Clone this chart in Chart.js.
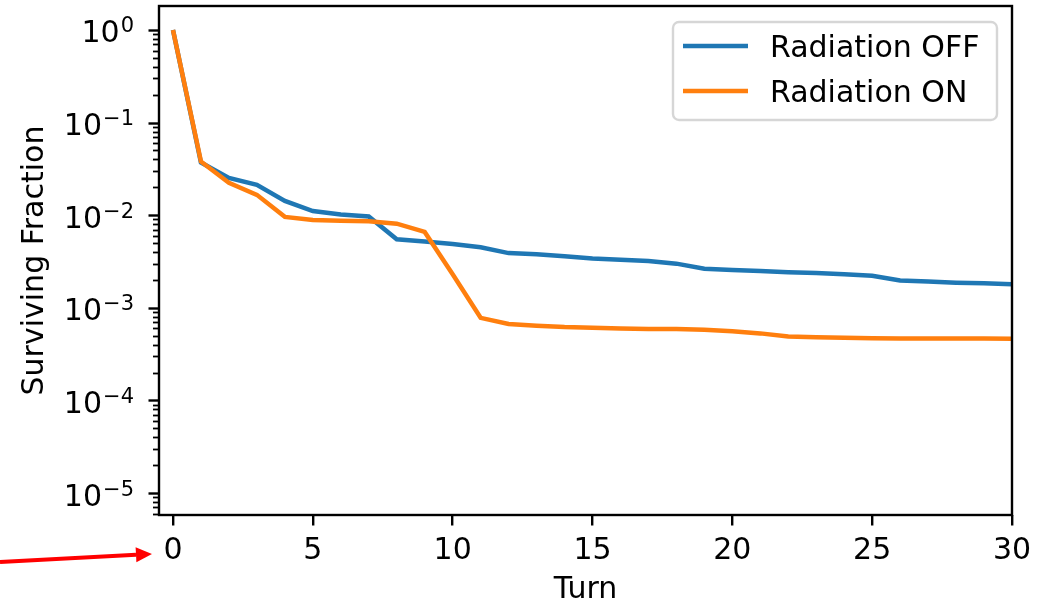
<!DOCTYPE html>
<html>
<head>
<meta charset="utf-8">
<script src="https://cdn.jsdelivr.net/npm/chart.js@4.4.0/dist/chart.umd.min.js"></script>
<style>
  html, body { margin: 0; padding: 0; background: #fff; }
  #wrap { width: 1054px; height: 605px; }
</style>
</head>
<body>
<div id="wrap"><canvas id="survivalChart" width="1054" height="605"></canvas></div>
<script>
// surviving fraction per turn, with and without radiation
const turns = [0, 1, 2, 3, 4, 5, 6, 7, 8, 9, 10, 11, 12, 13, 14, 15, 16, 17, 18, 19, 20,
               21, 22, 23, 24, 25, 26, 27, 28, 29, 30];
const radiationOff = [1.0, 0.037, 0.0253, 0.0213, 0.0143, 0.0111, 0.0102, 0.0097, 0.0055, 0.0052,
                      0.0049, 0.0045, 0.0039, 0.0038, 0.0036, 0.0034, 0.0033, 0.0032, 0.0030, 0.00264,
                      0.00256, 0.0025, 0.00243, 0.00238, 0.0023, 0.00222, 0.00197, 0.00192, 0.00187, 0.00184,
                      0.0018];
const radiationOn = [1.0, 0.038, 0.0224, 0.0166, 0.0096, 0.0089, 0.0087, 0.0086, 0.0081, 0.0066,
                     0.0023, 0.00078, 0.00067, 0.00064, 0.00062, 0.00061, 0.0006, 0.00059, 0.00059, 0.00058,
                     0.00056, 0.00053, 0.00049, 0.00048, 0.000475, 0.00047, 0.000468, 0.000467, 0.000466, 0.000466,
                     0.000465];
const seriesNames = ['Radiation OFF', 'Radiation ON'];
const seriesColors = ['#1f77b4', '#ff7f0e'];
const xTicks = [0, 5, 10, 15, 20, 25, 30];
const yTickExponents = [0, -1, -2, -3, -4, -5];

const FONT = 'DejaVu Sans';
const FS = 30;

function toPoints(values) {
    return turns.map((t, i) => ({ x: t, y: values[i] }));
}

// frame, log ticks with superscript labels, legend box and the red pointer
const decorations = {
    id: 'decorations',
    afterDraw(chart) {
        const ctx = chart.ctx;
        const area = chart.chartArea;
        const yScale = chart.scales.y;
        const xScale = chart.scales.x;
        ctx.save();

        // y ticks: majors at each decade, minors at 2..9
        ctx.strokeStyle = '#000';
        const lo = Math.floor(Math.log10(yScale.min));
        const hi = Math.ceil(Math.log10(yScale.max));
        for (let e = lo; e <= hi; e++) {
            for (let m = 1; m <= 9; m++) {
                const v = m * Math.pow(10, e);
                if (v < yScale.min || v > yScale.max) continue;
                const py = Math.round(yScale.getPixelForValue(v)) + 0.5;
                const major = m === 1;
                ctx.lineWidth = major ? 2.4 : 1.8;
                ctx.beginPath();
                ctx.moveTo(area.left, py);
                ctx.lineTo(area.left - (major ? 10.5 : 6), py);
                ctx.stroke();
            }
        }

        // y tick labels 10^e
        ctx.fillStyle = '#000';
        ctx.textBaseline = 'alphabetic';
        ctx.textAlign = 'right';
        yTickExponents.forEach(e => {
            const py = yScale.getPixelForValue(Math.pow(10, e));
            const expText = String(e).replace('-', '\u2212');
            ctx.font = '21px "' + FONT + '"';
            const expW = ctx.measureText(expText).width;
            const right = 134;
            ctx.fillText(expText, right, py + 2.5);
            ctx.font = FS + 'px "' + FONT + '"';
            ctx.fillText('10', right - expW - 1, py + 12.5);
        });

        // axes frame
        ctx.lineWidth = 2.4;
        ctx.strokeStyle = '#000';
        ctx.strokeRect(area.left, area.top, area.right - area.left, area.bottom - area.top);

        // legend
        const lx = 673, ly = 22, lw = 324, lh = 98, r = 6;
        ctx.beginPath();
        ctx.roundRect(lx, ly, lw, lh, r);
        ctx.fillStyle = 'rgba(255,255,255,0.8)';
        ctx.fill();
        ctx.lineWidth = 2.4;
        ctx.strokeStyle = 'rgba(204,204,204,0.8)';
        ctx.stroke();
        ctx.font = FS + 'px "' + FONT + '"';
        ctx.textAlign = 'left';
        seriesNames.forEach((name, i) => {
            const rowY = 46 + i * 45;
            ctx.strokeStyle = seriesColors[i];
            ctx.lineWidth = 4.5;
            ctx.beginPath();
            ctx.moveTo(683, rowY);
            ctx.lineTo(748, rowY);
            ctx.stroke();
            ctx.fillStyle = '#000';
            ctx.fillText(name, 770, rowY + 11);
        });

        // red pointer at the first x tick label
        const tipX = xScale.getPixelForValue(xTicks[0]) - 21;
        const tipY = area.bottom + 39;
        const startX = 0, startY = tipY + 8;
        const ang = Math.atan2(tipY - startY, tipX - startX);
        const headLen = 16, headHalf = 7.5;
        const bx = tipX - headLen * Math.cos(ang), by = tipY - headLen * Math.sin(ang);
        ctx.strokeStyle = '#ff0000';
        ctx.fillStyle = '#ff0000';
        ctx.lineWidth = 4;
        ctx.beginPath();
        ctx.moveTo(startX, startY);
        ctx.lineTo(bx, by);
        ctx.stroke();
        ctx.beginPath();
        ctx.moveTo(tipX, tipY);
        ctx.lineTo(bx + headHalf * Math.sin(ang), by - headHalf * Math.cos(ang));
        ctx.lineTo(bx - headHalf * Math.sin(ang), by + headHalf * Math.cos(ang));
        ctx.closePath();
        ctx.fill();

        ctx.restore();
    }
};

const chart = new Chart(document.getElementById('survivalChart').getContext('2d'), {
    type: 'line',
    data: {
        datasets: [
            {
                label: seriesNames[0],
                data: toPoints(radiationOff),
                borderColor: seriesColors[0],
                borderWidth: 4.5,
                pointRadius: 0,
                tension: 0,
                fill: false,
                order: 1
            },
            {
                label: seriesNames[1],
                data: toPoints(radiationOn),
                borderColor: seriesColors[1],
                borderWidth: 4.5,
                pointRadius: 0,
                tension: 0,
                fill: false,
                order: 0
            }
        ]
    },
    options: {
        responsive: false,
        animation: false,
        devicePixelRatio: 1,
        layout: { padding: { top: 6, right: 42, left: 0, bottom: 0 } },
        plugins: {
            legend: { display: false },
            tooltip: { enabled: false }
        },
        scales: {
            x: {
                type: 'linear',
                min: -0.5,
                max: 30,
                afterBuildTicks(scale) {
                    scale.ticks = xTicks.map(v => ({ value: v }));
                },
                afterFit(scale) {
                    scale.height = 90;
                },
                grid: {
                    drawOnChartArea: false,
                    drawTicks: true,
                    tickLength: 10.5,
                    lineWidth: 2.4,
                    tickWidth: 2.4,
                    tickColor: '#000'
                },
                border: { display: false },
                ticks: {
                    color: '#000',
                    padding: 8,
                    maxRotation: 0,
                    font: { family: FONT, size: FS }
                },
                title: {
                    display: true,
                    text: 'Turn',
                    color: '#000',
                    padding: { top: 0, bottom: -3 },
                    font: { family: FONT, size: FS }
                }
            },
            y: {
                type: 'logarithmic',
                min: 5.8e-6,
                max: 1.815,
                afterFit(scale) {
                    scale.width = 159;
                },
                grid: { display: false },
                border: { display: false },
                ticks: { display: false },
                title: {
                    display: true,
                    text: 'Surviving Fraction',
                    color: '#000',
                    padding: { top: 17, bottom: 0 },
                    font: { family: FONT, size: FS }
                }
            }
        }
    },
    plugins: [decorations]
});
</script>
</body>
</html>
